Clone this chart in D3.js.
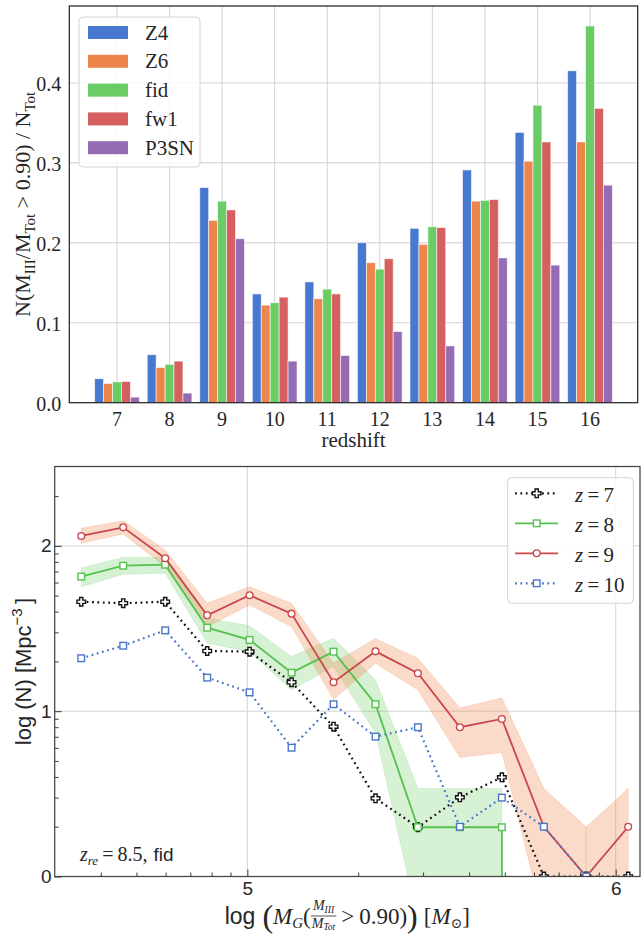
<!DOCTYPE html>
<html>
<head>
<meta charset="utf-8">
<script src="https://cdn.jsdelivr.net/npm/d3@7"></script>
<style>
  body { margin: 0; background: #fff; }
  svg { display: block; }
</style>
</head>
<body>
<div id="chart"></div>
<script>
// ---- top panel data: fraction of Pop III dominated galaxies per redshift
const redshifts = [7, 8, 9, 10, 11, 12, 13, 14, 15, 16];
const models = ['Z4', 'Z6', 'fid', 'fw1', 'P3SN'];
const modelColors = ['#4878d0', '#ee854a', '#6acc64', '#d65f5f', '#956cb4'];
const fracZ4   = [0.030, 0.060, 0.269, 0.136, 0.151, 0.200, 0.218, 0.291, 0.338, 0.415];
const fracZ6   = [0.024, 0.044, 0.228, 0.122, 0.130, 0.175, 0.198, 0.252, 0.302, 0.326];
const fracFid  = [0.026, 0.048, 0.252, 0.125, 0.142, 0.167, 0.220, 0.253, 0.372, 0.471];
const fracFw1  = [0.0265, 0.052, 0.241, 0.132, 0.136, 0.180, 0.219, 0.254, 0.326, 0.368];
const fracP3SN = [0.007, 0.012, 0.205, 0.052, 0.059, 0.089, 0.071, 0.181, 0.172, 0.272];
const topYTicks = [0.0, 0.1, 0.2, 0.3, 0.4];

// ---- bottom panel data: log N vs log M_G (null = no galaxies)
const logMass = [4.549, 4.663, 4.777, 4.891, 5.006, 5.120, 5.234, 5.348, 5.463, 5.577, 5.691, 5.805, 5.920, 6.034];
const logN_z7  = [1.662, 1.653, 1.662, 1.364, 1.360, 1.175, 0.906, 0.473, 0.298, 0.479, 0.600, 0, 0, 0];
const logN_z8  = [1.814, 1.880, 1.886, 1.505, 1.431, 1.233, 1.360, 1.042, 0.298, 0.298, 0.298, null, null, null];
const logN_z9  = [2.060, 2.112, 1.925, 1.580, 1.701, 1.590, 1.175, 1.362, 1.229, 0.903, 0.953, 0.301, 0, 0.301];
const logN_z10 = [1.320, 1.396, 1.489, 1.203, 1.114, 0.779, 1.042, 0.846, 0.903, 0.301, 0.477, 0.301, 0, null];
const band_z8_hi = [1.868, 1.931, 1.931, 1.562, 1.517, 1.330, 1.441, 1.190, 0.533, 0.533, 0.533, null, 0.300, null];
const band_z8_lo = [1.753, 1.828, 1.835, 1.411, 1.360, 1.128, 1.270, 0.868, -0.27, -0.30, -0.30, null, -0.30, null];
const band_z9_hi = [2.107, 2.152, 1.975, 1.653, 1.753, 1.653, 1.290, 1.440, 1.320, 1.020, 1.080, 0.533, 0.300, 0.533];
const band_z9_lo = [2.016, 2.072, 1.874, 1.511, 1.642, 1.511, 1.070, 1.290, 1.128, 0.720, 0.750, -0.27, -0.30, -0.30];
const zLabels = ['7', '8', '9', '10'];
const botXTicks = [5, 6];
const botYTicks = [0, 1, 2];

const serif = '"Liberation Serif", "Times New Roman", serif';
const sans = '"Liberation Sans", Arial, sans-serif';
const ink = '#262626';

const W = 641, H = 935;
const svg = d3.select('#chart').append('svg')
  .attr('width', W)
  .attr('height', H)
  .style('font-family', serif);

// ================= top panel =================
const tp = {left: 69.3, right: 637.7, top: 6, bottom: 402.7};
const x0 = d3.scaleBand().domain(redshifts).range([tp.left, tp.right])
  .paddingInner(0.15).paddingOuter(0.4825);
const x1 = d3.scaleBand().domain(models).range([0, x0.bandwidth()]);
const yTop = d3.scaleLinear().domain([0, 0.496]).range([tp.bottom, tp.top]);
const fractions = [fracZ4, fracZ6, fracFid, fracFw1, fracP3SN];

let gTop = svg.append('g')

gTop.append('g')
  .selectAll('line')
  .data(topYTicks.slice(1))
  .enter().append('line')
  .attr('x1', tp.left).attr('x2', tp.right)
  .attr('y1', (d) => yTop(d)).attr('y2', (d) => yTop(d))
  .attr('stroke', '#dedede').attr('stroke-width', 1.3)

gTop.append('g')
  .selectAll('line')
  .data(redshifts)
  .enter().append('line')
  .attr('x1', (d) => x0(d) + x0.bandwidth() / 2).attr('x2', (d) => x0(d) + x0.bandwidth() / 2)
  .attr('y1', tp.top).attr('y2', tp.bottom)
  .attr('stroke', '#d2d2d2').attr('stroke-width', 1)

models.forEach((m, mi) => {
  gTop.append('g')
    .selectAll('rect')
    .data(fractions[mi])
    .enter().append('rect')
    .attr('x', (d, i) => x0(redshifts[i]) + x1(m))
    .attr('width', x1.bandwidth())
    .attr('y', (d) => yTop(d))
    .attr('height', (d) => yTop(0) - yTop(d))
    .attr('fill', modelColors[mi])
    .attr('stroke', '#fff').attr('stroke-width', 0.8).attr('stroke-opacity', 0.7)
})

let yAxisTop = gTop.append('g')
  .attr('transform', `translate(${tp.left},0)`)
  .call(d3.axisLeft(yTop).tickValues(topYTicks).tickFormat(d3.format('.1f')).tickSize(0).tickPadding(8))
yAxisTop.select('.domain').remove()
yAxisTop.selectAll('text').attr('dy', '0.38em').style('font-family', serif).style('font-size', '20px').attr('fill', ink)

let xAxisTop = gTop.append('g')
  .attr('transform', `translate(0,${tp.bottom})`)
  .call(d3.axisBottom(x0).tickSize(0).tickPadding(9.5))
xAxisTop.select('.domain').remove()
xAxisTop.selectAll('text').style('font-family', serif).style('font-size', '20px').attr('fill', ink)

gTop.append('rect')
  .attr('x', tp.left).attr('y', tp.top)
  .attr('width', tp.right - tp.left).attr('height', tp.bottom - tp.top)
  .attr('fill', 'none').attr('stroke', ink).attr('stroke-width', 1.25)

gTop.append('text')
  .attr('x', (tp.left + tp.right) / 2).attr('y', 447)
  .attr('text-anchor', 'middle')
  .style('font-size', '21px').attr('fill', ink)
  .text('redshift')

let yl = gTop.append('text')
  .attr('transform', `translate(30,${(tp.top + tp.bottom) / 2}) rotate(-90)`)
  .attr('text-anchor', 'middle')
  .style('font-size', '22px').attr('fill', ink)
yl.append('tspan').text('N(M')
yl.append('tspan').attr('dy', 5).style('font-size', '15px').text('III')
yl.append('tspan').attr('dy', -5).text('/M')
yl.append('tspan').attr('dy', 5).style('font-size', '15px').text('Tot')
yl.append('tspan').attr('dy', -5).text(' > 0.90) / N')
yl.append('tspan').attr('dy', 5).style('font-size', '15px').text('Tot')

// legend
let legTop = gTop.append('g')
legTop.append('rect')
  .attr('x', 79).attr('y', 17).attr('width', 121).attr('height', 150).attr('rx', 4)
  .attr('fill', '#fff').attr('fill-opacity', 0.8).attr('stroke', '#d4d4d4')
models.forEach((m, mi) => {
  let cy = 32.5 + mi * 28.8
  legTop.append('rect')
    .attr('x', 88).attr('y', cy - 6.5).attr('width', 40).attr('height', 13)
    .attr('fill', modelColors[mi])
  legTop.append('text')
    .attr('x', 145).attr('y', cy + 7)
    .style('font-size', '21px').attr('fill', ink)
    .text(m)
})

// ================= bottom panel =================
const bp = {left: 54.7, right: 640, top: 466.5, bottom: 876.5};
const xM = d3.scaleLinear().domain([4.477, 6.066]).range([bp.left, bp.right]);
const yN = d3.scaleLinear().domain([0, 2.48]).range([bp.bottom, bp.top]);

let gBot = svg.append('g')
svg.append('defs').append('clipPath').attr('id', 'clipBot')
  .append('rect')
  .attr('x', bp.left).attr('y', bp.top)
  .attr('width', bp.right - bp.left).attr('height', bp.bottom - bp.top)

// grid
gBot.append('g').selectAll('line').data(botXTicks).enter().append('line')
  .attr('x1', (d) => xM(d)).attr('x2', (d) => xM(d))
  .attr('y1', bp.top).attr('y2', bp.bottom)
  .attr('stroke', '#d4d4d4').attr('stroke-width', 1)
gBot.append('g').selectAll('line').data(botYTicks.slice(1)).enter().append('line')
  .attr('x1', bp.left).attr('x2', bp.right)
  .attr('y1', (d) => yN(d)).attr('y2', (d) => yN(d))
  .attr('stroke', '#d4d4d4').attr('stroke-width', 1)

let plot = gBot.append('g').attr('clip-path', 'url(#clipBot)')

// shaded bands
let bands = [
  {hi: band_z8_hi, lo: band_z8_lo, color: '#6acc64', op: 0.27},
  {hi: band_z9_hi, lo: band_z9_lo, color: '#ee854a', op: 0.3}
]
let area = d3.area()
  .defined((d) => d.hi != null)
  .x((d) => xM(d.x))
  .y0((d) => yN(d.lo))
  .y1((d) => yN(d.hi))
bands.forEach((b) => {
  let pts = logMass.map((x, i) => ({x: x, hi: b.hi[i], lo: b.lo[i]}))
  plot.append('path')
    .datum(pts)
    .attr('d', area)
    .attr('fill', b.color).attr('fill-opacity', b.op)
    .attr('stroke', b.color).attr('stroke-opacity', b.op * 0.8).attr('stroke-width', 0.8)
})

function plusPath(a, b) {
  return `M${-b},${-a}H${b}V${-b}H${a}V${b}H${b}V${a}H${-b}V${b}H${-a}V${-b}H${-b}Z`
}

let series = [
  {vals: logN_z7, color: '#111', dash: '1.8,3.6', marker: 'plus'},
  {vals: logN_z8, color: '#55c250', dash: null, marker: 'square'},
  {vals: logN_z9, color: '#c9474c', dash: null, marker: 'circle'},
  {vals: logN_z10, color: '#4a76c8', dash: '1.8,3.6', marker: 'square'}
]

function drawMarker(sel, kind, color) {
  if (kind === 'plus') {
    sel.append('path').attr('d', plusPath(4.3, 1.6))
      .attr('fill', '#fff').attr('stroke', color).attr('stroke-width', 1.4)
  } else if (kind === 'square') {
    sel.append('rect').attr('x', -3.3).attr('y', -3.3).attr('width', 6.6).attr('height', 6.6)
      .attr('fill', '#fff').attr('stroke', color).attr('stroke-width', 1.4)
  } else {
    sel.append('circle').attr('r', 3.4)
      .attr('fill', '#fff').attr('stroke', color).attr('stroke-width', 1.3)
  }
}

let line = d3.line().x((d) => xM(d.x)).y((d) => yN(d.y))
series.forEach((s) => {
  // an empty bin after a filled one drops straight down (log of zero)
  let pts = []
  s.vals.forEach((v, i) => {
    if (v != null) pts.push({x: logMass[i], y: v})
    else if (i > 0 && s.vals[i - 1] != null) pts.push({x: logMass[i - 1], y: yN.domain()[0] - 1})
  })
  plot.append('path')
    .datum(pts)
    .attr('d', line)
    .attr('fill', 'none')
    .attr('stroke', s.color).attr('stroke-width', s.dash ? 2.2 : 1.8)
    .attr('stroke-dasharray', s.dash)
  let mk = plot.append('g')
    .selectAll('g')
    .data(s.vals.map((v, i) => ({x: logMass[i], y: v})).filter((d) => d.y != null))
    .enter().append('g')
    .attr('transform', (d) => `translate(${xM(d.x)},${yN(d.y)})`)
  drawMarker(mk, s.marker, s.color)
})

// axes with inward ticks
let minorX = [3, 4, 5, 6, 7, 8, 9].map((k) => 4 + Math.log10(k))
  .concat([2, 3, 4, 5, 6, 7, 8, 9].map((k) => 5 + Math.log10(k)))
  .filter((v) => v > xM.domain()[0] + 0.005 && v < xM.domain()[1])
let minorY = [0, 1, 2].flatMap((d) => [2, 3, 4, 5, 6, 7, 8, 9].map((k) => d + Math.log10(k)))
  .filter((v) => v < yN.domain()[1] - 0.01)

let xb = gBot.append('g').attr('transform', `translate(0,${bp.bottom})`)
xb.append('g').call(d3.axisBottom(xM).tickValues(minorX).tickFormat('').tickSizeInner(-4).tickSizeOuter(0))
xb.append('g').call(d3.axisBottom(xM).tickValues(botXTicks).tickFormat(d3.format('d')).tickSizeInner(-7).tickSizeOuter(0).tickPadding(5))
let yb = gBot.append('g').attr('transform', `translate(${bp.left},0)`)
yb.append('g').call(d3.axisLeft(yN).tickValues(minorY).tickFormat('').tickSizeInner(-4).tickSizeOuter(0))
yb.append('g').call(d3.axisLeft(yN).tickValues(botYTicks).tickFormat(d3.format('d')).tickSizeInner(-7).tickSizeOuter(0).tickPadding(3))
gBot.selectAll('.domain').remove()
gBot.selectAll('.tick line').attr('stroke', ink).attr('stroke-width', 0.9)
gBot.selectAll('.tick text').style('font-family', sans).style('font-size', '19px').attr('fill', ink)

gBot.append('rect')
  .attr('x', bp.left).attr('y', bp.top)
  .attr('width', bp.right - bp.left).attr('height', bp.bottom - bp.top)
  .attr('fill', 'none').attr('stroke', '#444').attr('stroke-width', 1.25)

// legend
let legBot = gBot.append('g')
legBot.append('rect')
  .attr('x', 507.7).attr('y', 477.7).attr('width', 125.6).attr('height', 125.6).attr('rx', 4)
  .attr('fill', '#fff').attr('fill-opacity', 0.85).attr('stroke', '#d4d4d4')
series.forEach((s, si) => {
  let cy = 493.3 + si * 30
  legBot.append('line')
    .attr('x1', 515).attr('x2', 558).attr('y1', cy).attr('y2', cy)
    .attr('stroke', s.color).attr('stroke-width', s.dash ? 2.2 : 1.8)
    .attr('stroke-dasharray', s.dash)
  drawMarker(legBot.append('g').attr('transform', `translate(536.7,${cy})`), s.marker, s.color)
  let t = legBot.append('text').attr('x', 575).attr('y', cy + 8.2)
    .style('font-size', '21px').attr('fill', ink)
  t.append('tspan').style('font-style', 'italic').text('z')
  t.append('tspan').text('\u2009=\u2009' + zLabels[si])
})

// sequential math-like label builder
function setRun(g, parts) {
  let x = 0
  for (const p of parts) {
    if (p.gap) { x += p.gap; continue }
    if (p.num) {
      let n = g.append('g'), d = g.append('g')
      let wn = setRun(n, p.num), wd = setRun(d, p.den)
      let w = Math.max(wn, wd) + 2
      n.attr('transform', `translate(${x + (w - wn) / 2},${p.numY})`)
      d.attr('transform', `translate(${x + (w - wd) / 2},${p.denY})`)
      g.append('line').attr('x1', x).attr('x2', x + w).attr('y1', p.barY).attr('y2', p.barY)
        .attr('stroke', ink).attr('stroke-width', 0.8)
      x += w
      continue
    }
    let t = g.append('text').attr('x', x).attr('y', p.dy || 0)
      .style('font-family', p.fam || (p.sans ? sans : serif))
      .style('font-size', p.size + 'px')
      .style('font-style', p.it ? 'italic' : 'normal')
      .attr('fill', ink)
      .text(p.t)
    x += t.node().getComputedTextLength() + (p.after || 0)
  }
  return x
}

let xLab = gBot.append('g')
let xLabW = setRun(xLab, [
  {t: 'log', sans: true, size: 23},
  {gap: 7},
  {t: '(', size: 32, dy: 3},
  {t: 'M', it: true, size: 23},
  {t: 'G', it: true, size: 15, dy: 4},
  {t: '(', size: 23},
  {num: [{t: 'M', it: true, size: 14}, {t: 'III', it: true, size: 9.5, dy: 3}],
   den: [{t: 'M', it: true, size: 14}, {t: 'Tot', it: true, size: 9.5, dy: 2}],
   numY: -14, denY: 4, barY: -8},
  {gap: 5},
  {t: '>', size: 23},
  {gap: 5},
  {t: '0.90)', size: 23},
  {t: ')', size: 32, dy: 3},
  {gap: 6},
  {t: '[', size: 23},
  {t: 'M', it: true, size: 23},
  {t: '\u2299', fam: '"DejaVu Serif", serif', size: 14, dy: 4},
  {t: ']', size: 23}
])
xLab.attr('transform', `translate(${(bp.left + bp.right) / 2 - xLabW / 2},924)`)

let ylb = gBot.append('text')
  .attr('transform', `translate(31,${(bp.top + bp.bottom) / 2}) rotate(-90)`)
  .attr('text-anchor', 'middle')
  .style('font-family', sans).style('font-size', '22px').attr('fill', ink)
ylb.append('tspan').text('log (N) [Mpc')
ylb.append('tspan').attr('dy', -9).style('font-size', '15px').text('\u22123')
ylb.append('tspan').attr('dy', 9).text('\u2009]')

// annotation
let ann = gBot.append('g').attr('transform', 'translate(80,861)')
setRun(ann, [
  {t: 'z', it: true, size: 20},
  {t: 're', it: true, size: 13, dy: 4},
  {gap: 4},
  {t: '=', size: 20},
  {gap: 4},
  {t: '8.5,', size: 20},
  {gap: 6},
  {t: 'fid', sans: true, size: 19}
])
</script>
</body>
</html>
